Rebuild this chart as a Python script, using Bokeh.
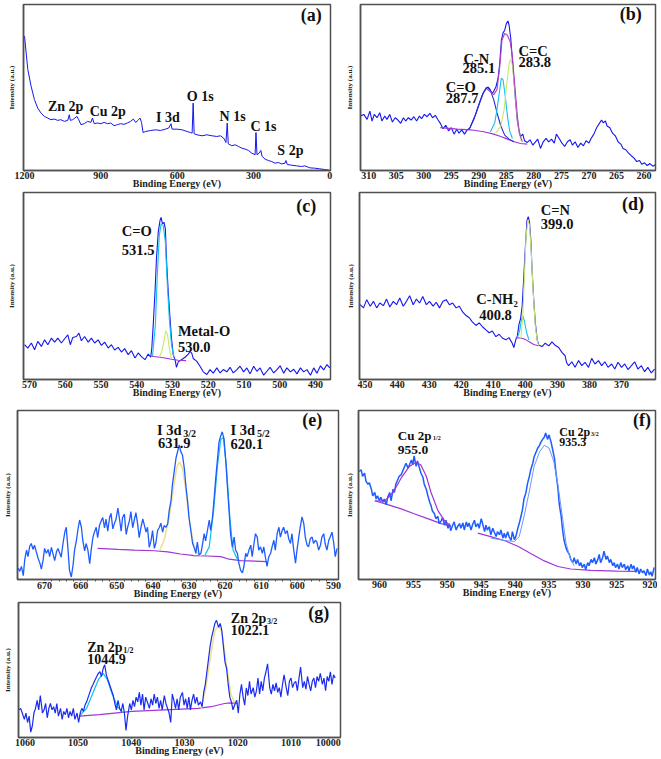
from bokeh.plotting import figure
from bokeh.models import Range1d, FixedTicker, ColumnDataSource
from bokeh.layouts import column, row
from bokeh.core.properties import value
from bokeh.embed import file_html
from bokeh.resources import INLINE

FONT = "Liberation Serif"
RAW = "#1616ee"
RAW2 = "#1f5cff"
BG = "#a035d8"
CYAN = "#10c0f0"
YG = "#c9e86a"
YEL = "#efe08a"
ENV = "#b440c4"
XLABEL = "Binding Energy (eV)"
YLABEL = "Intensity (a.u.)"

# ---------------- (a) survey ----------------
a_ticks = [1200, 900, 600, 300, 0]
a_be = [1200, 1193.5, 1187, 1174, 1161, 1148, 1135, 1122, 1109, 1096, 1083, 1070, 1057, 1043.5, 1030, 1024, 1020,
        1011, 1002, 994, 987, 978, 965, 952, 939, 933, 926, 913, 900, 887, 874, 861, 848, 835, 822, 809, 796, 783,
        772, 763, 754, 746, 740, 734, 724, 704, 685, 665, 646, 633, 624, 620, 600, 580, 561, 548, 541, 537, 533,
        522, 502, 483, 463, 444, 430, 417, 408, 403, 399, 385, 372, 359, 346, 333, 320, 307, 293.5, 290, 286, 277,
        271, 266, 254, 241, 228, 215, 202, 189, 176, 172, 167, 150, 130, 111, 98, 78, 59, 39, 20, 3]
a_int = [80.9, 70.8, 60.8, 50.7, 42.7, 37.6, 34.6, 32.6, 31.6, 30.6, 31.0, 30.2, 30.6, 29.6, 30.2, 33.6, 30.2,
         30.6, 31.6, 32.6, 30.6, 27.6, 28.2, 29.6, 29.0, 31.6, 28.2, 28.6, 28.2, 29.0, 28.2, 28.6, 27.0, 27.6, 28.2,
         27.8, 28.6, 29.6, 31.0, 29.0, 30.2, 31.6, 29.0, 22.9, 23.5, 24.1, 24.5, 24.1, 24.9, 25.6, 28.2, 24.9, 24.9,
         24.5, 23.5, 22.9, 22.5, 40.6, 22.1, 21.5, 20.9, 21.5, 20.9, 20.5, 20.9, 19.5, 16.9, 28.6, 16.1, 14.9, 15.5,
         14.5, 13.5, 12.9, 12.1, 10.5, 9.5, 22.9, 9.5, 10.5, 12.1, 8.5, 6.8, 6.0, 5.4, 4.4, 4.8, 4.0, 4.4, 6.0, 3.6,
         3.2, 2.8, 2.4, 2.8, 1.6, 1.4, 1.0, 0.6, 0.2]
a_lab_text = ["Zn 2p", "Cu 2p", "I 3d", "O 1s", "N 1s", "C 1s", "S 2p"]
a_lab_x = [1108, 944, 683, 562, 433, 312, 206]
a_lab_y = [38.4, 35.4, 31.8, 44.5, 32.6, 26.4, 11.9]

# ---------------- (b) C 1s ----------------
b_ticks = [310, 305, 300, 295, 290, 285, 280, 275, 270, 265, 260]
b_be = [311.5, 310.9, 310.3, 309.8, 309.4, 309.0, 308.5, 308.0, 307.6, 307.1, 306.7, 306.2, 305.7, 305.2, 304.7,
        304.2, 303.7, 303.3, 302.8, 302.3, 301.8, 301.3, 300.8, 300.4, 299.9, 299.4, 298.9, 298.4, 297.9, 297.4,
        297.0, 296.5, 296.0, 295.5, 295.0, 294.5, 294.0, 293.6, 293.1, 292.6, 292.1, 291.6, 291.1, 290.6, 290.2,
        289.7, 289.2, 288.7, 288.3, 288.0, 287.6, 287.3, 286.9, 286.5, 286.2, 285.9, 285.6, 285.3, 285.0, 284.7,
        284.5, 284.2, 283.9, 283.6, 283.3, 283.0, 282.7, 282.4, 282.0, 281.7, 281.2, 280.7, 280.2, 279.7, 279.3,
        278.8, 278.3, 277.8, 277.3, 276.8, 276.3, 275.9, 275.4, 274.9, 274.4, 273.9, 273.4, 273.0, 272.5, 272.0,
        271.5, 271.0, 270.5, 270.0, 269.6, 269.1, 268.6, 268.1, 267.7, 267.4, 267.0, 266.7, 266.2, 265.7, 265.2,
        264.7, 264.2, 263.8, 263.3, 262.8, 262.3, 261.8, 261.3, 260.8, 260.4, 259.9, 259.4, 258.9, 258.4, 257.9]
b_int = [32.8, 33.8, 30.8, 35.8, 29.8, 33.8, 31.8, 34.8, 29.8, 32.8, 30.8, 33.8, 29.2, 31.8, 30.4, 28.4, 31.8, 29.8,
         31.8, 30.4, 32.4, 29.8, 32.8, 31.2, 33.8, 32.4, 34.4, 31.8, 33.2, 30.4, 28.4, 25.2, 27.2, 23.9, 25.8, 21.9,
         24.9, 22.5, 24.5, 21.9, 24.5, 25.8, 29.8, 33.8, 37.8, 42.7, 46.7, 49.7, 50.3, 49.1, 46.3, 47.7, 50.3, 55.7,
         64.6, 78.5, 82.9, 84.5, 88.5, 90.1, 87.5, 79.5, 66.6, 53.7, 40.8, 29.8, 23.9, 20.5, 21.9, 17.9, 16.9, 18.5,
         15.3, 17.3, 18.9, 13.3, 17.3, 19.3, 17.3, 18.9, 16.5, 21.9, 19.3, 16.5, 14.5, 17.3, 18.5, 15.3, 17.3, 13.9,
         16.5, 14.9, 17.9, 16.5, 19.3, 21.9, 25.8, 28.4, 30.4, 28.8, 29.8, 26.8, 25.8, 22.5, 20.9, 17.3, 15.9, 13.3,
         12.5, 10.5, 8.9, 7.4, 5.4, 6.0, 3.8, 4.6, 3.0, 4.2, 2.6, 3.4]
b_bg_be = [297.0, 293.9, 291.5, 289.1, 287.3, 286.0, 284.8, 283.6, 282.4, 281.2]
b_bg_int = [25.8, 24.9, 24.5, 23.3, 21.9, 20.5, 18.9, 17.3, 16.3, 15.9]
b_co_be = [291.8, 290.9, 290.0, 289.2, 288.5, 287.9, 287.3, 286.7, 286.0, 285.3, 284.5, 283.6]
b_co_int = [24.5, 30.8, 39.2, 46.7, 50.1, 48.3, 42.7, 34.8, 26.8, 21.3, 18.9, 17.3]
b_cn_be = [287.9, 287.1, 286.7, 286.2, 285.9, 285.6, 285.2, 284.8, 284.4, 283.9]
b_cn_int = [23.3, 28.8, 36.8, 48.7, 55.7, 54.7, 44.7, 32.8, 23.9, 19.3]
b_cc_be = [286.95, 286.0, 285.4, 284.9, 284.5, 284.2, 283.9, 283.5, 283.1, 282.7, 282.3]
b_cc_int = [22.5, 26.8, 36.8, 52.7, 64.6, 67.0, 63.6, 50.7, 34.8, 23.9, 17.9]
b_env_be = [288.5, 287.3, 286.7, 286.2, 285.8, 285.3, 284.8, 284.3, 283.9, 283.5, 283.0, 282.6, 282.1]
b_env_int = [49.1, 45.7, 48.7, 62.6, 78.5, 82.5, 81.5, 77.5, 68.6, 52.7, 32.8, 21.9, 17.3]
b_lab_text = ["C=O", "287.7", "C-N", "285.1", "C=C", "283.8"]
b_lab_x = [296.0, 296.0, 292.8, 292.95, 282.8, 282.8]
b_lab_y = [50.5, 43.9, 67.2, 61.8, 72.0, 65.4]

# ---------------- (c) O 1s ----------------
c_ticks = [570, 560, 550, 540, 530, 520, 510, 500, 490]
c_be = [571.4, 570.5, 569.5, 568.6, 567.7, 566.7, 565.8, 564.9, 563.9, 563.0, 562.1, 561.1, 560.2, 559.3, 558.6,
        557.9, 556.9, 556.2, 555.5, 554.6, 553.6, 552.7, 551.8, 550.8, 549.9, 549.0, 548.0, 547.1, 546.2, 545.2,
        544.3, 543.4, 542.4, 541.5, 540.5, 539.6, 538.7, 537.7, 536.8, 536.1, 535.8, 535.4, 534.9, 534.5, 534.0,
        533.5, 533.2, 532.8, 532.4, 532.0, 531.7, 531.2, 530.7, 530.3, 529.8, 529.3, 528.9, 528.4, 527.5, 526.5,
        525.6, 525.1, 524.6, 524.2, 523.2, 522.3, 521.4, 520.4, 519.5, 518.6, 517.6, 516.7, 515.8, 514.8, 513.9,
        513.0, 512.0, 511.1, 510.1, 509.2, 508.3, 507.3, 506.4, 505.5, 504.5, 503.6, 502.7, 501.7, 500.8, 499.9,
        498.9, 498.0, 497.0, 496.1, 495.2, 494.2, 493.3, 492.4, 491.4, 490.5, 489.6, 488.6, 487.7, 486.8, 486.0]
c_int = [18.6, 16.8, 19.5, 15.9, 20.4, 17.7, 21.2, 18.6, 22.1, 20.0, 22.1, 19.5, 21.8, 23.9, 18.6, 22.5, 23.0, 24.8,
         20.7, 23.0, 20.0, 22.1, 19.5, 21.2, 18.2, 20.0, 16.8, 18.6, 15.8, 17.2, 14.7, 16.5, 13.3, 15.4, 11.5, 14.2,
         12.2, 10.6, 13.6, 11.9, 16.8, 29.2, 46.9, 64.6, 78.8, 85.0, 86.7, 83.2, 84.1, 80.5, 64.6, 46.9, 32.7, 22.1,
         13.3, 10.6, 6.5, 9.4, 10.6, 11.9, 13.6, 15.0, 14.0, 11.2, 9.7, 7.1, 4.1, 2.7, 5.3, 3.4, 6.2, 3.5, 5.3, 4.1,
         6.5, 3.5, 5.3, 7.1, 4.1, 6.2, 3.0, 7.1, 4.4, 6.2, 2.3, 4.4, 6.5, 3.5, 5.3, 7.3, 3.4, 6.2, 4.1, 5.5, 3.0, 6.2,
         4.1, 5.3, 2.3, 6.2, 3.4, 7.3, 5.1, 8.0, 6.2]
c_bg_be = [535.9, 534.0, 532.1, 530.3, 528.4, 526.2]
c_bg_int = [12.4, 12.0, 11.5, 10.8, 10.3, 10.1]
c_co_be = [535.6, 534.8, 534.3, 533.7, 533.2, 532.6, 532.0, 531.5, 530.9, 530.3, 529.6]
c_co_int = [12.6, 29.2, 54.0, 77.0, 83.2, 82.3, 73.5, 52.2, 32.7, 18.6, 11.5]
c_mo_be = [533.7, 533.0, 532.4, 531.9, 531.4, 530.9, 530.3]
c_mo_int = [12.0, 15.0, 20.4, 26.0, 23.9, 16.8, 11.0]
c_lab_text = ["C=O", "531.5", "Metal-O", "530.0"]
c_lab_x = [544.2, 544.2, 528.5, 528.5]
c_lab_y = [79.3, 69.2, 26.2, 17.2]

# ---------------- (d) N 1s ----------------
d_ticks = [450, 440, 430, 420, 410, 400, 390, 380, 370]
d_be = [451.5, 450.5, 449.5, 448.4, 447.4, 446.4, 445.4, 444.3, 443.3, 442.3, 441.2, 440.2, 439.2, 438.1, 437.1,
        436.1, 435.0, 434.0, 433.0, 432.0, 430.9, 429.9, 428.8, 427.8, 426.8, 425.7, 424.7, 423.7, 422.7, 421.6,
        420.6, 419.5, 418.5, 417.5, 416.5, 415.4, 414.4, 413.4, 412.3, 411.3, 410.3, 409.2, 408.2, 407.2, 406.1,
        405.1, 404.1, 403.6, 403.0, 402.5, 402.0, 401.5, 401.0, 400.5, 400.0, 399.5, 399.1, 398.7, 398.3, 397.9,
        397.4, 396.9, 396.3, 395.8, 394.8, 393.8, 392.7, 391.7, 390.7, 389.6, 388.6, 387.6, 387.1, 386.5, 385.5,
        384.5, 383.4, 382.4, 381.4, 380.3, 379.3, 378.3, 377.2, 376.2, 375.2, 374.2, 373.1, 372.1, 371.1, 370.0,
        369.0, 368.0, 366.9, 365.9, 364.9, 363.8, 362.8, 361.8, 360.7, 359.7]
d_int = [40.0, 38.3, 42.7, 39.2, 41.8, 38.3, 40.9, 39.5, 43.0, 38.8, 41.8, 40.0, 43.6, 39.2, 41.8, 44.8, 40.0, 43.0,
         40.9, 44.4, 40.0, 41.8, 39.2, 41.3, 38.3, 41.8, 42.7, 40.0, 40.9, 38.3, 39.2, 36.0, 34.2, 33.0, 30.7, 28.9,
         30.3, 28.2, 26.5, 25.0, 25.9, 22.9, 24.2, 22.2, 21.2, 22.4, 19.4, 17.1, 21.2, 23.3, 29.5, 32.5, 39.2, 54.7,
         70.9, 85.0, 87.1, 84.1, 74.4, 58.6, 42.7, 30.3, 21.2, 18.3, 17.6, 19.4, 18.0, 20.1, 18.3, 17.1, 14.5, 12.7,
         8.8, 7.4, 9.5, 6.5, 10.1, 7.4, 9.2, 6.5, 11.3, 8.3, 10.1, 7.4, 9.5, 6.5, 8.3, 5.6, 9.2, 6.5, 8.3, 5.3, 7.4,
         9.5, 5.6, 7.4, 4.2, 6.5, 3.5, 5.6]
d_bg_be = [403.0, 401.8, 400.8, 399.8, 398.7, 397.4, 395.8]
d_bg_int = [22.4, 22.2, 21.9, 21.2, 20.1, 18.7, 18.0]
d_nh_be = [402.5, 401.8, 401.3, 400.8, 400.3, 399.6, 398.9]
d_nh_int = [22.4, 25.9, 31.2, 34.2, 31.2, 25.0, 21.2]
d_cn_be = [401.4, 400.8, 400.3, 399.8, 399.2, 398.7, 398.2, 397.6, 396.9, 396.2, 395.7]
d_cn_int = [21.9, 33.9, 55.0, 76.2, 85.4, 82.4, 69.1, 48.0, 28.6, 19.8, 18.2]
d_lab_text = ["C=N", "399.0", "C-NH\u2082", "400.8"]
d_lab_x = [395.2, 395.2, 415.3, 414.4]
d_lab_y = [90.8, 83.4, 43.2, 34.7]

# ---------------- (e) I 3d ----------------
e_ticks = [670, 660, 650, 640, 630, 620, 610, 600, 590]
e_minor = [668, 666, 664, 662, 658, 656, 654, 652, 648, 646, 644, 642, 638, 636, 634, 632, 628, 626, 624, 622,
           618, 616, 614, 612, 608, 606, 604, 602, 598, 596, 594, 592]
e_be = [677.3, 676.9, 676.4, 675.9, 675.5, 675.0, 674.6, 674.1, 673.7, 673.2, 672.8, 672.3, 671.8, 671.3, 670.9,
        670.4, 670.0, 669.5, 669.0, 668.6, 668.1, 667.7, 667.2, 666.7, 666.3, 665.8, 665.4, 664.9, 664.4, 664.0,
        663.5, 663.1, 662.6, 662.1, 661.7, 661.2, 660.8, 660.3, 659.8, 659.4, 658.9, 658.5, 658.0, 657.5, 657.1,
        656.6, 656.2, 655.7, 655.3, 654.8, 654.3, 653.9, 653.4, 653.0, 652.5, 652.0, 651.6, 651.1, 650.7, 650.2,
        649.7, 649.3, 648.8, 648.4, 647.9, 647.4, 647.0, 646.5, 646.1, 645.6, 645.1, 644.7, 644.2, 643.8, 643.3,
        642.8, 642.4, 641.9, 641.5, 641.0, 640.5, 640.1, 639.6, 639.2, 638.7, 638.2, 637.8, 637.3, 636.9, 636.4,
        635.9, 635.5, 635.0, 634.6, 634.1, 633.6, 633.2, 632.7, 632.3, 631.8, 631.3, 630.9, 630.4, 630.0, 629.5,
        629.0, 628.6, 628.1, 627.7, 627.2, 626.7, 626.3, 625.8, 625.4, 624.9, 624.4, 624.0, 623.5, 623.1, 622.6,
        622.1, 621.7, 621.2, 620.8, 620.3, 619.8, 619.4, 618.9, 618.5, 618.0, 617.5, 617.1, 616.6, 616.2, 615.7,
        615.2, 614.8, 614.3, 613.9, 613.4, 612.9, 612.5, 612.0, 611.6, 611.1, 610.7, 610.2, 609.7, 609.3, 608.8,
        608.4, 607.9, 607.4, 607.0, 606.5, 606.1, 605.6, 605.1, 604.7, 604.2, 603.8, 603.3, 602.8, 602.4, 601.9,
        601.5, 601.0, 600.5, 600.1, 599.6, 599.2, 598.7, 598.2, 597.8, 597.3, 596.9, 596.4, 595.9, 595.5, 595.0,
        594.6, 594.1, 593.6, 593.2, 592.7, 592.3, 591.8, 591.3, 590.9, 590.4, 589.9, 589.5, 589.0]
e_int = [6.8, 4.8, 7.7, 2.3, 11.6, 17.4, 13.5, 19.7, 21.3, 17.8, 20.3, 16.4, 12.6, 9.7, 6.2, 11.6, 18.4, 15.5, 17.8,
         13.5, 19.0, 15.5, 11.2, 16.4, 18.4, 15.5, 13.2, 21.3, 28.0, 30.9, 17.4, 5.4, 1.5, 8.7, 17.4, 22.8, 29.0,
         35.2, 30.9, 22.8, 17.0, 21.3, 17.4, 9.3, 17.4, 25.1, 28.0, 30.9, 24.8, 31.9, 34.8, 36.7, 30.6, 35.8, 28.6,
         36.7, 39.1, 30.0, 32.9, 35.8, 42.2, 36.7, 28.6, 36.7, 38.7, 26.7, 30.9, 34.8, 40.2, 30.6, 35.8, 39.6, 32.5,
         24.8, 30.9, 35.8, 32.5, 28.0, 30.9, 19.0, 23.2, 29.0, 18.4, 21.3, 29.0, 30.9, 33.3, 28.0, 31.9, 30.9, 32.9,
         40.6, 46.4, 56.1, 63.8, 71.9, 75.4, 79.7, 75.8, 73.5, 65.8, 56.1, 46.4, 36.7, 29.0, 21.3, 19.0, 15.5, 22.2,
         14.5, 15.5, 20.3, 27.1, 22.8, 29.0, 35.2, 29.0, 36.7, 46.4, 60.0, 71.6, 81.2, 85.1, 87.4, 83.2, 69.6, 56.1,
         40.6, 27.1, 19.0, 25.1, 17.4, 15.5, 9.7, 5.4, 3.9, 7.7, 15.5, 13.5, 17.4, 20.3, 13.5, 21.3, 27.1, 25.1, 17.4,
         19.3, 15.5, 19.3, 12.6, 7.7, 13.5, 15.5, 19.3, 23.2, 17.4, 27.1, 30.9, 25.1, 29.0, 30.9, 27.1, 29.0, 24.2,
         21.3, 27.1, 17.4, 9.7, 17.4, 25.1, 30.9, 37.1, 32.9, 25.1, 20.3, 19.3, 24.2, 25.1, 21.3, 23.2, 22.2, 17.4,
         20.3, 25.1, 27.1, 21.3, 17.4, 23.2, 25.1, 28.0, 21.3, 13.5, 18.4]
e_bg_be = [655.3, 649.7, 645.1, 639.6, 635.9, 632.3, 628.6, 624.9, 621.2, 618.9, 615.7, 608.4]
e_bg_int = [18.4, 17.8, 17.4, 17.0, 16.4, 15.1, 14.1, 13.9, 13.5, 12.0, 11.2, 10.6]
e_p1_be = [638.2, 636.9, 635.5, 634.3, 633.4, 632.7, 631.8, 630.9, 630.0, 628.8, 627.7, 626.6]
e_p1_int = [17.0, 23.2, 36.7, 54.2, 66.1, 69.6, 65.8, 53.2, 36.7, 21.3, 15.5, 13.9]
e_p2_be = [625.6, 624.4, 623.2, 622.1, 621.2, 620.5, 619.6, 618.7, 617.8, 616.6]
e_p2_int = [14.3, 19.3, 40.6, 67.7, 82.8, 84.1, 65.8, 36.7, 17.4, 12.0]
e_lab_text = ["I 3d", "631.9", "I 3d", "620.1"]
e_lab_x = [638.9, 638.6, 618.5, 618.5]
e_lab_y = [88.4, 80.8, 88.4, 80.3]
e_sub_text = ["3/2", "5/2"]
e_sub_x = [631.6, 611.2]
e_sub_y = [86.4, 86.4]

# ---------------- (f) Cu 2p ----------------
f_ticks = [960, 955, 950, 945, 940, 935, 930, 925, 920]
f_be = [963.0, 962.7, 962.5, 962.2, 962.0, 961.7, 961.5, 961.2, 961.0, 960.7, 960.5, 960.3, 960.0, 959.8, 959.5,
        959.3, 959.0, 958.8, 958.5, 958.3, 958.0, 957.8, 957.6, 957.3, 957.1, 956.8, 956.6, 956.3, 956.1, 955.8,
        955.6, 955.3, 955.1, 954.9, 954.6, 954.4, 954.1, 953.9, 953.6, 953.4, 953.1, 952.9, 952.6, 952.4, 952.2,
        951.9, 951.7, 951.4, 951.2, 950.9, 950.7, 950.4, 950.2, 949.9, 949.7, 949.5, 949.2, 949.0, 948.7, 948.5,
        948.2, 948.0, 947.7, 947.5, 947.2, 947.0, 946.8, 946.5, 946.3, 946.0, 945.8, 945.5, 945.3, 945.0, 944.8,
        944.5, 944.3, 944.1, 943.8, 943.6, 943.3, 943.1, 942.8, 942.6, 942.3, 942.1, 941.8, 941.6, 941.4, 941.1,
        940.9, 940.6, 940.4, 940.1, 939.9, 939.6, 939.4, 939.1, 938.9, 938.7, 938.4, 938.2, 937.9, 937.7, 937.4,
        937.2, 936.9, 936.7, 936.4, 936.2, 935.9, 935.7, 935.5, 935.2, 935.0, 934.7, 934.5, 934.2, 934.0, 933.7,
        933.5, 933.2, 933.0, 932.8, 932.5, 932.3, 932.0, 931.8, 931.5, 931.3, 931.0, 930.8, 930.5, 930.3, 930.1,
        929.8, 929.6, 929.3, 929.1, 928.8, 928.6, 928.3, 928.1, 927.8, 927.6, 927.4, 927.1, 926.9, 926.6, 926.4,
        926.1, 925.9, 925.6, 925.4, 925.2, 924.9, 924.7, 924.4, 924.2, 923.9, 923.7, 923.4, 923.2, 922.9, 922.7,
        922.5, 922.2, 922.0, 921.7, 921.5, 921.2, 921.0, 920.7, 920.5, 920.2, 920.0, 919.8, 919.5]
f_int = [64.0, 64.9, 61.1, 63.0, 58.2, 56.3, 57.2, 53.4, 49.5, 51.5, 47.6, 49.5, 46.6, 48.6, 45.7, 47.6, 44.3, 48.6,
         51.5, 46.6, 53.4, 51.5, 56.3, 59.2, 61.1, 62.1, 64.0, 66.9, 68.8, 65.9, 67.8, 70.7, 67.8, 73.2, 66.9, 70.1,
         65.9, 63.0, 60.5, 56.3, 53.4, 50.1, 45.7, 43.7, 40.5, 38.9, 36.0, 37.4, 33.1, 34.7, 36.6, 32.2, 35.1, 30.3,
         33.1, 28.9, 32.2, 34.1, 29.3, 31.2, 33.1, 30.3, 33.5, 29.3, 34.1, 31.2, 33.5, 29.3, 32.2, 35.1, 31.2, 33.1,
         30.3, 36.0, 33.1, 28.3, 32.2, 29.3, 31.2, 26.4, 30.3, 28.3, 25.4, 28.3, 26.4, 29.3, 24.5, 27.4, 24.5, 28.3,
         25.4, 23.1, 28.3, 23.5, 25.4, 30.3, 33.1, 38.0, 41.8, 47.6, 51.5, 56.3, 61.1, 64.9, 68.8, 72.6, 75.5, 77.5,
         79.4, 81.3, 83.2, 84.2, 86.7, 82.9, 85.6, 81.3, 77.5, 71.7, 64.0, 54.3, 44.7, 37.0, 29.3, 23.5, 18.7, 16.8,
         14.8, 11.9, 10.0, 12.9, 9.1, 11.9, 8.1, 10.0, 7.1, 9.1, 5.8, 10.0, 8.1, 11.9, 10.0, 12.9, 9.1, 11.9, 14.8,
         10.0, 12.9, 16.8, 11.9, 13.9, 10.0, 11.9, 8.1, 10.0, 7.1, 9.1, 6.2, 10.0, 7.1, 9.1, 5.8, 8.1, 5.2, 9.1, 6.2,
         8.1, 4.2, 7.1, 3.3, 6.2, 3.9, 5.2, 2.3, 6.2, 2.7, 4.6, 1.9, 7.1]
f_bg1_be = [960.7, 958.8, 956.8, 954.9, 952.9, 950.9, 949.5]
f_bg1_int = [46.6, 44.3, 41.8, 38.9, 36.0, 33.1, 31.6]
f_bg2_be = [945.5, 943.6, 941.6, 939.6, 937.7, 935.7, 933.7, 931.8, 928.8, 924.9, 922.0]
f_bg2_int = [27.4, 25.4, 23.1, 19.7, 15.4, 11.0, 7.7, 6.2, 5.4, 5.0, 4.8]
f_p1_be = [960.7, 959.3, 958.0, 956.8, 955.6, 954.6, 953.9, 953.1, 952.4, 951.4, 950.4, 949.5]
f_p1_int = [46.6, 46.2, 51.5, 60.1, 66.9, 69.4, 67.8, 61.1, 51.5, 40.9, 34.7, 31.6]
f_p2_be = [943.6, 941.6, 940.1, 939.4, 938.7, 937.9, 937.2, 936.4, 935.7, 935.0, 934.3, 933.7, 933.1, 932.5,
           931.9, 931.3]
f_p2_int = [24.5, 23.1, 22.5, 25.4, 37.0, 52.4, 66.9, 75.5, 79.4, 77.8, 69.8, 56.3, 39.0, 21.6, 12.9, 8.1]
f_lab_text = ["Cu 2p", "955.0", "Cu 2p", "935.3"]
f_lab_x = [957.3, 957.3, 933.5, 933.5]
f_lab_y = [85.0, 76.9, 87.3, 81.5]
f_lab_size = ["13px", "13.5px", "12px", "12px"]
f_sub_text = ["1/2", "3/2"]
f_sub_x = [952.1, 928.8]
f_sub_y = [83.6, 86.3]

# ---------------- (g) Zn 2p ----------------
g_ticks = [1060, 1050, 1040, 1030, 1020, 1010, 1003]
g_tick_labels = ["1060", "1050", "1040", "1030", "1020", "1010", "10000"]
g_be = [1061.1, 1060.8, 1060.5, 1060.1, 1059.8, 1059.5, 1059.2, 1058.9, 1058.6, 1058.3, 1058.0, 1057.7, 1057.4,
        1057.1, 1056.7, 1056.4, 1056.1, 1055.8, 1055.5, 1055.2, 1054.9, 1054.6, 1054.3, 1054.0, 1053.7, 1053.3,
        1053.0, 1052.7, 1052.4, 1052.1, 1051.8, 1051.5, 1051.2, 1050.9, 1050.6, 1050.2, 1049.9, 1049.6, 1049.3,
        1049.0, 1048.7, 1048.4, 1048.1, 1047.8, 1047.5, 1047.2, 1046.8, 1046.5, 1046.2, 1045.9, 1045.6, 1045.3,
        1045.0, 1044.7, 1044.4, 1044.1, 1043.7, 1043.4, 1043.1, 1042.8, 1042.5, 1042.2, 1041.9, 1041.6, 1041.3,
        1041.0, 1040.7, 1040.3, 1040.0, 1039.7, 1039.4, 1039.1, 1038.8, 1038.5, 1038.2, 1037.9, 1037.6, 1037.3,
        1036.9, 1036.6, 1036.3, 1036.0, 1035.7, 1035.4, 1035.1, 1034.8, 1034.5, 1034.2, 1033.8, 1033.5, 1033.2,
        1032.9, 1032.6, 1032.3, 1032.0, 1031.7, 1031.4, 1031.1, 1030.8, 1030.4, 1030.1, 1029.8, 1029.5, 1029.2,
        1028.9, 1028.6, 1028.3, 1028.0, 1027.7, 1027.4, 1027.0, 1026.7, 1026.4, 1026.1, 1025.8, 1025.5, 1025.2,
        1024.9, 1024.6, 1024.3, 1024.0, 1023.6, 1023.3, 1023.0, 1022.7, 1022.4, 1022.1, 1021.8, 1021.5, 1021.2,
        1020.9, 1020.5, 1020.2, 1019.9, 1019.6, 1019.3, 1019.0, 1018.7, 1018.4, 1018.1, 1017.8, 1017.5, 1017.1,
        1016.8, 1016.5, 1016.2, 1015.9, 1015.6, 1015.3, 1015.0, 1014.7, 1014.4, 1014.0, 1013.7, 1013.4, 1013.1,
        1012.8, 1012.5, 1012.2, 1011.9, 1011.6, 1011.3, 1010.9, 1010.6, 1010.3, 1010.0, 1009.7, 1009.4, 1009.1,
        1008.8, 1008.5, 1008.2, 1007.8, 1007.5, 1007.2, 1006.9, 1006.6, 1006.3, 1006.0, 1005.7, 1005.4, 1005.1,
        1004.8, 1004.5, 1004.1, 1003.8, 1003.5, 1003.2, 1002.9, 1002.6, 1002.3, 1002.0, 1001.7]
g_int = [20.5, 21.6, 18.1, 13.4, 18.1, 11.1, 15.8, 4.0, 8.7, 18.1, 21.6, 27.5, 20.5, 31.1, 18.1, 20.5, 25.2, 14.6,
         21.6, 25.2, 20.5, 22.8, 18.1, 25.2, 15.8, 21.6, 13.4, 19.3, 16.9, 21.6, 14.6, 19.3, 15.8, 21.6, 13.4, 18.1,
         11.1, 18.1, 21.6, 19.3, 24.0, 26.4, 29.9, 33.4, 36.9, 39.3, 42.8, 45.2, 47.5, 48.7, 45.2, 51.1, 53.9, 46.4,
         42.8, 39.3, 34.6, 31.1, 25.2, 20.5, 27.5, 21.6, 19.3, 25.2, 18.1, 5.2, 15.8, 25.2, 20.5, 27.5, 22.8, 29.9,
         26.4, 33.4, 24.0, 32.2, 20.5, 29.9, 25.2, 21.6, 28.7, 24.0, 32.2, 25.2, 29.9, 21.6, 27.5, 20.5, 31.1, 25.2,
         21.6, 18.1, 11.1, 32.2, 27.5, 21.6, 28.7, 20.5, 29.9, 33.4, 24.0, 28.7, 21.6, 29.9, 20.5, 27.5, 32.2, 25.2,
         29.9, 24.0, 26.4, 22.8, 33.4, 39.3, 48.7, 58.1, 67.5, 74.6, 79.3, 84.5, 86.8, 81.6, 84.5, 79.3, 67.5, 55.8,
         51.1, 39.3, 29.9, 26.4, 20.5, 25.2, 27.5, 18.1, 32.2, 39.3, 29.9, 24.0, 36.7, 31.1, 41.6, 32.2, 36.9, 29.9,
         34.6, 44.0, 32.2, 41.6, 34.6, 44.0, 48.7, 54.6, 36.9, 32.2, 39.3, 34.6, 40.5, 33.4, 36.9, 29.9, 39.3, 46.4,
         36.9, 31.1, 41.6, 44.0, 36.9, 40.5, 41.6, 34.6, 44.0, 52.2, 36.9, 41.6, 35.8, 45.2, 39.3, 34.6, 41.6, 44.0,
         36.9, 45.2, 41.6, 47.5, 39.3, 44.0, 34.6, 45.2, 41.6, 48.7, 39.3, 46.4, 44.0]
g_bg_be = [1049.8, 1046.0, 1039.9, 1033.7, 1027.5, 1025.0, 1022.5, 1021.3, 1020.0]
g_bg_int = [15.8, 16.9, 19.3, 20.5, 21.6, 22.8, 25.2, 25.6, 25.2]
g_p1_be = [1049.8, 1048.4, 1047.3, 1046.2, 1045.3, 1044.5, 1043.6, 1042.6, 1041.6]
g_p1_int = [15.8, 21.6, 32.2, 42.8, 47.5, 42.8, 32.2, 22.8, 18.6]
g_p2_be = [1026.9, 1026.0, 1025.0, 1024.3, 1023.6, 1023.0, 1022.2, 1021.3, 1020.4]
g_p2_int = [21.6, 36.9, 62.8, 79.3, 82.8, 78.1, 55.8, 32.2, 24.0]
g_lab_text = ["Zn 2p", "1044.9", "Zn 2p", "1022.1"]
g_lab_x = [1048.3, 1048.3, 1021.3, 1021.3]
g_lab_y = [66.6, 58.1, 88.5, 80.0]
g_sub_text = ["1/2", "3/2"]
g_sub_x = [1041.5, 1014.5]
g_sub_y = [64.2, 86.2]

panel_tags = ["(a)", "(b)", "(c)", "(d)", "(e)", "(f)", "(g)"]
tag_x = [73, 262.4, 492.6, 366.4, 595.9, 921.3, 1004.8]
tag_y = [93.4, 94.1, 92.6, 94.0, 94.2, 94.2, 92.0]


def make_fig(w, h, xr, ticks, bl, br, bt, ystand, labels=None, minor=None):
    p = figure(width=w, height=h, x_range=Range1d(xr[0], xr[1]), y_range=Range1d(0, 100),
               output_backend="svg", toolbar_location=None,
               min_border_left=bl, min_border_right=br, min_border_top=bt, min_border_bottom=21)
    p.xgrid.visible = False
    p.ygrid.visible = False
    p.outline_line_color = "#505050"
    p.outline_line_width = 1.5
    xa = p.xaxis[0]
    xa.ticker = FixedTicker(ticks=ticks, minor_ticks=minor if minor else [])
    if labels is not None:
        xa.major_label_overrides = {t: l for t, l in zip(ticks, labels)}
    xa.axis_label = XLABEL
    xa.axis_label_text_font = FONT
    xa.axis_label_text_font_style = "bold"
    xa.axis_label_text_font_size = "10px"
    xa.axis_label_text_color = "#222222"
    xa.axis_label_standoff = -4
    xa.major_label_text_font = FONT
    xa.major_label_text_font_style = "bold"
    xa.major_label_text_font_size = "10px"
    xa.major_label_text_color = "#222222"
    xa.major_label_standoff = 0
    xa.major_tick_out = 1
    xa.major_tick_in = 0
    xa.minor_tick_out = 2 if minor else 0
    xa.minor_tick_in = 0
    xa.axis_line_color = "#505050"
    xa.axis_line_width = 1.5
    xa.major_tick_line_color = "#505050"
    xa.minor_tick_line_color = "#505050"
    ya = p.yaxis[0]
    ya.ticker = FixedTicker(ticks=[])
    ya.major_tick_out = 0
    ya.major_tick_in = 0
    ya.minor_tick_out = 0
    ya.minor_tick_in = 0
    ya.axis_line_color = "#505050"
    ya.axis_line_width = 1.5
    ya.axis_label = YLABEL
    ya.axis_label_text_font = FONT
    ya.axis_label_text_font_style = "bold"
    ya.axis_label_text_font_size = "7px"
    ya.axis_label_text_color = "#222222"
    ya.axis_label_standoff = ystand
    return p


def add_text(p, xs, ys, texts, size, align="left"):
    src = ColumnDataSource(dict(x=xs, y=ys, t=texts))
    p.text(x="x", y="y", text="t", source=src, text_font=value(FONT), text_font_style="bold",
           text_font_size=size, text_align=align, text_baseline="middle", text_color="#111111")


LBL = "14.5px"
TAG = "18px"

# (a)
pa = make_fig(342, 191, (1204, -3), a_ticks, 23, 12, 4, 8)
pa.line(a_be, a_int, line_color=RAW, line_width=1)
add_text(pa, a_lab_x, a_lab_y, a_lab_text, "14px")
add_text(pa, [tag_x[0]], [tag_y[0]], [panel_tags[0]], TAG, "center")

# (b)
pb = make_fig(315, 191, (311.5, 257.9), b_ticks, 18, 2, 4, 7)
pb.line(b_be, b_int, line_color=RAW, line_width=1.1)
pb.line(b_bg_be, b_bg_int, line_color=BG, line_width=1.1)
pb.line(b_co_be, b_co_int, line_color="#2a2ad0", line_width=1.1)
pb.line(b_cn_be, b_cn_int, line_color=CYAN, line_width=1.1)
pb.line(b_cc_be, b_cc_int, line_color=YG, line_width=1.1)
pb.line(b_env_be, b_env_int, line_color=ENV, line_width=1.1)
add_text(pb, b_lab_x, b_lab_y, b_lab_text, LBL)
add_text(pb, [tag_x[1]], [tag_y[1]], [panel_tags[1]], TAG, "center")

# (c)
pc = make_fig(342, 209, (571.7, 485.8), c_ticks, 23, 12, 1, 8)
pc.line(c_be, c_int, line_color=RAW, line_width=1.1)
pc.line(c_bg_be, c_bg_int, line_color=BG, line_width=1.1)
pc.line(c_co_be, c_co_int, line_color=CYAN, line_width=1.1)
pc.line(c_mo_be, c_mo_int, line_color=YG, line_width=1.1)
add_text(pc, c_lab_x, c_lab_y, c_lab_text, LBL)
add_text(pc, [tag_x[2]], [tag_y[2]], [panel_tags[2]], TAG, "center")

# (d)
pd = make_fig(315, 209, (451.75, 359.4), d_ticks, 17, 2, 1, 5)
pd.line(d_be, d_int, line_color=RAW, line_width=1.1)
pd.line(d_bg_be, d_bg_int, line_color=BG, line_width=1.1)
pd.line(d_nh_be, d_nh_int, line_color=CYAN, line_width=1.1)
pd.line(d_cn_be, d_cn_int, line_color=YG, line_width=1.1)
add_text(pd, d_lab_x, d_lab_y, d_lab_text, LBL)
add_text(pd, [tag_x[3]], [tag_y[3]], [panel_tags[3]], TAG, "center")

# (e)
pe = make_fig(342, 201, (677.5, 588.6), e_ticks, 16, 4, 10, 6, minor=e_minor)
pe.line(e_bg_be, e_bg_int, line_color=BG, line_width=1.2)
pe.line(e_p1_be, e_p1_int, line_color=YEL, line_width=1.5)
pe.line(e_p2_be, e_p2_int, line_color=CYAN, line_width=1.2)
pe.line(e_be, e_int, line_color=RAW2, line_width=1.3)
add_text(pe, e_lab_x, e_lab_y, e_lab_text, LBL)
add_text(pe, e_sub_x, e_sub_y, e_sub_text, "10px")
add_text(pe, [tag_x[4]], [tag_y[4]], [panel_tags[4]], TAG, "center")

# (f)
pf = make_fig(315, 201, (963.1, 919.3), f_ticks, 15, 2, 10, 5)
pf.line(f_bg1_be, f_bg1_int, line_color=BG, line_width=1.2)
pf.line(f_bg2_be, f_bg2_int, line_color=BG, line_width=1.2)
pf.line(f_be, f_int, line_color=RAW2, line_width=1.5)
pf.line(f_p1_be, f_p1_int, line_color=BG, line_width=1.2)
pf.line(f_p2_be, f_p2_int, line_color="#6a96ff", line_width=1.0)
src_f = ColumnDataSource(dict(x=f_lab_x, y=f_lab_y, t=f_lab_text, s=f_lab_size))
pf.text(x="x", y="y", text="t", source=src_f, text_font=value(FONT), text_font_style="bold",
        text_font_size="s", text_align="left", text_baseline="middle", text_color="#111111")
add_text(pf, f_sub_x, f_sub_y, f_sub_text, "6px")
add_text(pf, [tag_x[5]], [tag_y[5]], [panel_tags[5]], TAG, "center")

# (g)
pg = make_fig(348, 157, (1061.2, 1000.7), g_ticks, 18, 8, 1, 7, labels=g_tick_labels)
pg.line(g_bg_be, g_bg_int, line_color=BG, line_width=1.2)
pg.line(g_p1_be, g_p1_int, line_color=CYAN, line_width=1.2)
pg.line(g_p2_be, g_p2_int, line_color=YEL, line_width=1.5)
pg.line(g_be, g_int, line_color="#1a2cf0", line_width=1.2)
add_text(pg, g_lab_x, g_lab_y, g_lab_text, "14px")
add_text(pg, g_sub_x, g_sub_y, g_sub_text, "8px")
add_text(pg, [tag_x[6]], [tag_y[6]], [panel_tags[6]], TAG, "center")

layout = column(row(pa, pb), row(pc, pd), row(pe, pf), row(pg))
open("out.html", "w").write(file_html(layout, INLINE))
